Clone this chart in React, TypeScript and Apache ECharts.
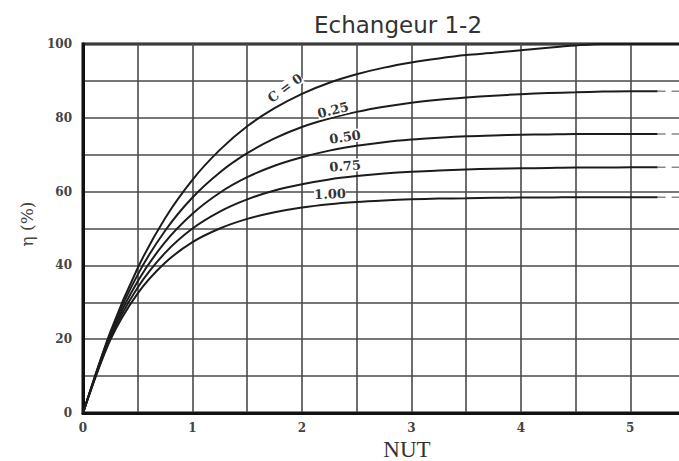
import React, { useEffect, useRef } from "react";
import * as echarts from "echarts";

// NUT (x) values shared by all curves
const nut = [0, 0.25, 0.5, 0.75, 1, 1.25, 1.5, 1.75, 2, 2.25, 2.5, 2.75, 3, 3.25, 3.5, 3.75, 4, 4.25, 4.5, 4.75, 5, 5.25];
// efficiency η (%) for each capacity ratio C
const etaC0 = [0, 22, 39.3, 52.8, 63.2, 71.3, 77.7, 82.6, 86.5, 89.5, 91.8, 93.6, 95, 96.1, 97, 97.6, 98.3, 99, 99.6, 100, 100, 100];
const etaC025 = [0, 21.5, 37.5, 49.4, 58.4, 65.2, 70.4, 74.4, 77.5, 79.8, 81.6, 83, 84.1, 84.9, 85.5, 86, 86.4, 86.7, 86.9, 87.1, 87.2, 87.2];
const etaC050 = [0, 20.9, 35.7, 46.3, 54, 59.7, 63.9, 67, 69.3, 71.1, 72.4, 73.4, 74.1, 74.6, 75, 75.2, 75.4, 75.5, 75.6, 75.6, 75.6, 75.6];
const etaC075 = [0, 20.4, 34, 43.4, 50, 54.6, 57.9, 60.3, 62, 63.3, 64.2, 64.9, 65.4, 65.7, 66, 66.2, 66.3, 66.4, 66.5, 66.5, 66.6, 66.6];
const etaC100 = [0, 19.8, 32.4, 40.7, 46.3, 50, 52.6, 54.4, 55.7, 56.6, 57.2, 57.6, 57.9, 58.1, 58.2, 58.3, 58.4, 58.4, 58.5, 58.5, 58.5, 58.5];
// dashed tails at the right edge
const tailNut = [5.25, 5.5];
const tailC0 = [100, 100];
const tailC025 = [87.2, 87.2];
const tailC050 = [75.6, 75.6];
const tailC075 = [66.6, 66.6];
const tailC100 = [58.5, 58.5];

const curveLabels = ["C = 0", "0.25", "0.50", "0.75", "1.00"];
const xTickLabels = ["0", "1", "2", "3", "4", "5"];
const yTickLabels = ["0", "20", "40", "60", "80", "100"];

const zip = (xs: number[], ys: number[]) => xs.map((x, i) => [x, ys[i]]);

export default function App() {
  const ref = useRef<HTMLDivElement>(null);
  useEffect(() => {
    if (!ref.current) return;
    const chart = echarts.init(ref.current, undefined, { renderer: "svg" });
    const curveStyle = { color: "#1c1c1c", width: 2 };
    const tailStyle = { color: "#888", width: 1.5, type: [8, 6] as any };
    const curves = [etaC0, etaC025, etaC050, etaC075, etaC100];
    const tails = [tailC0, tailC025, tailC050, tailC075, tailC100];
    const series: any[] = [];
    curves.forEach((c, i) => {
      series.push({
        name: curveLabels[i],
        type: "line",
        data: zip(nut, c),
        smooth: 0.3,
        symbol: "none",
        lineStyle: curveStyle,
      });
      series.push({
        name: curveLabels[i] + " tail",
        type: "line",
        data: zip(tailNut, tails[i]),
        symbol: "none",
        lineStyle: i === 0 ? curveStyle : tailStyle,
      });
    });
    const labelFont = { fontFamily: "DejaVu Serif", fontWeight: "bold", fontSize: 13, fill: "#333" };
    const labelPos = [
      { x: 285, y: 88, r: 36 },
      { x: 333, y: 110, r: 14 },
      { x: 345, y: 137, r: 8 },
      { x: 345, y: 166, r: 5 },
      { x: 330, y: 194, r: 2 },
    ];
    chart.setOption({
      animation: false,
      backgroundColor: "#fff",
      title: {
        text: "Echangeur 1-2",
        left: 393,
        top: 8,
        textAlign: "center",
        textStyle: { fontFamily: "DejaVu Sans", fontSize: 23, fontWeight: "normal", color: "#333" },
      },
      grid: {
        left: 83,
        top: 44,
        right: 15,
        bottom: 48,
        show: true,
        borderColor: "#111",
        borderWidth: 3,
        backgroundColor: "transparent",
      },
      xAxis: {
        type: "value",
        min: 0,
        max: 5.5,
        interval: 0.5,
        axisLine: { show: true, lineStyle: { color: "#111", width: 3 } },
        axisTick: { show: false },
        splitLine: { show: true, lineStyle: { color: "#4a4a4a", width: 1.6 } },
        axisLabel: {
          margin: 9,
          fontFamily: "DejaVu Serif",
          fontWeight: "bold",
          fontSize: 12,
          color: "#444",
          formatter: (v: number) => (Number.isInteger(v) ? xTickLabels[v] ?? "" : ""),
        },
      },
      yAxis: {
        type: "value",
        min: 0,
        max: 100,
        interval: 10,
        axisLine: { show: true, lineStyle: { color: "#111", width: 3 } },
        axisTick: { show: false },
        splitLine: { show: true, lineStyle: { color: "#4a4a4a", width: 1.6 } },
        axisLabel: {
          margin: 11,
          fontFamily: "DejaVu Serif",
          fontWeight: "bold",
          fontSize: 12,
          color: "#444",
          formatter: (v: number) => (v % 20 === 0 ? yTickLabels[v / 20] ?? "" : ""),
        },
      },
      graphic: [
        {
          type: "text",
          x: 27,
          y: 224,
          rotation: Math.PI / 2,
          style: {
            text: "η (%)",
            fontFamily: "DejaVu Serif",
            fontSize: 17,
            fill: "#444",
            textAlign: "center",
            textVerticalAlign: "middle",
          },
        },
        {
          type: "text",
          x: 407,
          y: 449,
          style: {
            text: "NUT",
            fontFamily: "Liberation Serif",
            fontSize: 23,
            fill: "#333",
            textAlign: "center",
            textVerticalAlign: "middle",
          },
        },
        ...labelPos.map((p, i) => ({
          type: "text",
          x: p.x,
          y: p.y,
          rotation: (p.r * Math.PI) / 180,
          z: 100,
          style: {
            text: curveLabels[i],
            ...labelFont,
            textAlign: "center",
            textVerticalAlign: "middle",
            backgroundColor: "#fff",
          },
        })),
      ],
      series,
    });
    return () => chart.dispose();
  }, []);
  return (
    <div style={{ position: "fixed", left: 0, top: 0, width: 679, height: 461, overflow: "hidden", background: "#fff" }}>
      <div ref={ref} style={{ width: 700, height: 461 }} />
    </div>
  );
}
